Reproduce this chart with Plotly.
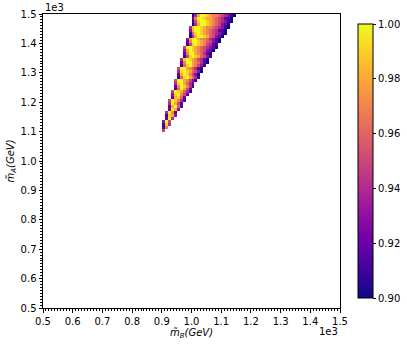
import numpy as np
import plotly.graph_objects as go

# grid of 10 GeV cells from 500 to 1500 on both axes
x_edges = np.arange(500, 1501, 10)
y_edges = np.arange(500, 1501, 10)

# rows of the filled wedge: lower edge of row (m_A), first cell (m_B), values
row_y = [1100, 1110, 1120, 1130, 1140, 1150, 1160, 1170, 1180, 1190,
         1200, 1210, 1220, 1230, 1240, 1250, 1260, 1270, 1280, 1290,
         1300, 1310, 1320, 1330, 1340, 1350, 1360, 1370, 1380, 1390,
         1400, 1410, 1420, 1430, 1440, 1450, 1460, 1470, 1480, 1490]
row_start = [900, 900, 900, 900, 910, 910, 910, 920, 920, 920,
             920, 930, 930, 930, 940, 940, 940, 940, 950, 950,
             950, 950, 960, 960, 960, 970, 970, 970, 970, 980,
             980, 980, 990, 990, 990, 990, 1000, 1000, 1000, 1000]
row_values = [
    [0.95],
    [0.91, 0.97],
    [0.91, 0.99, 0.94],
    [0.93, 1.00, 0.95],
    [0.92, 1.00, 0.94],
    [0.91, 0.99, 0.98, 0.93],
    [0.94, 1.00, 0.97, 0.92],
    [0.92, 1.00, 0.98, 0.93],
    [0.92, 0.98, 1.00, 0.96, 0.92],
    [0.94, 1.00, 0.98, 0.95, 0.91],
    [0.95, 1.00, 0.99, 0.97, 0.94, 0.91],
    [0.92, 0.98, 0.99, 0.96, 0.92],
    [0.93, 0.99, 1.00, 0.97, 0.95, 0.92],
    [0.95, 1.00, 0.99, 0.98, 0.96, 0.94, 0.91],
    [0.91, 0.96, 1.00, 0.98, 0.95, 0.92],
    [0.92, 0.97, 1.00, 0.99, 0.97, 0.94, 0.91],
    [0.94, 0.99, 1.00, 0.98, 0.96, 0.94, 0.92],
    [0.95, 1.00, 1.00, 0.98, 0.97, 0.95, 0.93, 0.91],
    [0.91, 0.96, 0.99, 1.00, 0.98, 0.96, 0.94, 0.91],
    [0.92, 0.98, 1.00, 0.99, 0.97, 0.95, 0.93, 0.90],
    [0.94, 0.99, 1.00, 0.99, 0.98, 0.96, 0.95, 0.93, 0.90],
    [0.95, 1.00, 1.00, 0.98, 0.97, 0.96, 0.94, 0.92, 0.90],
    [0.91, 0.96, 0.99, 1.00, 0.98, 0.97, 0.95, 0.93, 0.91],
    [0.92, 0.97, 1.00, 1.00, 0.98, 0.97, 0.96, 0.94, 0.92, 0.90],
    [0.94, 0.99, 1.00, 0.99, 0.98, 0.97, 0.95, 0.94, 0.92, 0.90],
    [0.91, 0.95, 0.99, 1.00, 0.99, 0.98, 0.96, 0.95, 0.93, 0.91],
    [0.92, 0.97, 1.00, 1.00, 0.98, 0.97, 0.96, 0.94, 0.92, 0.90],
    [0.93, 0.98, 1.00, 0.99, 0.98, 0.97, 0.96, 0.95, 0.93, 0.92, 0.90],
    [0.95, 1.00, 1.00, 0.99, 0.98, 0.97, 0.96, 0.95, 0.94, 0.93, 0.92, 0.90],
    [0.91, 0.95, 0.99, 1.00, 0.99, 0.98, 0.97, 0.95, 0.94, 0.92, 0.91],
    [0.92, 0.97, 1.00, 1.00, 0.99, 0.98, 0.97, 0.96, 0.95, 0.93, 0.92, 0.90],
    [0.93, 0.98, 1.00, 1.00, 0.98, 0.97, 0.97, 0.96, 0.94, 0.93, 0.91, 0.90],
    [0.90, 0.94, 0.98, 1.00, 1.00, 0.99, 0.98, 0.96, 0.95, 0.93, 0.92, 0.90],
    [0.91, 0.96, 0.99, 1.00, 0.99, 0.98, 0.97, 0.96, 0.95, 0.94, 0.93, 0.91, 0.90],
    [0.93, 0.98, 1.00, 1.00, 0.99, 0.98, 0.97, 0.96, 0.95, 0.94, 0.92, 0.91, 0.90],
    [0.94, 0.99, 1.00, 1.00, 0.99, 0.98, 0.97, 0.97, 0.96, 0.95, 0.94, 0.93, 0.91, 0.90],
    [0.90, 0.94, 0.98, 1.00, 1.00, 0.99, 0.98, 0.97, 0.96, 0.95, 0.93, 0.92, 0.90],
    [0.91, 0.95, 0.99, 1.00, 1.00, 0.99, 0.98, 0.97, 0.96, 0.95, 0.94, 0.93, 0.91, 0.90],
    [0.92, 0.97, 1.00, 1.00, 0.99, 0.98, 0.98, 0.97, 0.96, 0.95, 0.94, 0.92, 0.91, 0.90],
    [0.90, 0.94, 0.98, 1.00, 1.00, 0.99, 0.98, 0.97, 0.97, 0.96, 0.95, 0.94, 0.93, 0.91, 0.90],
]

tick_vals = [500, 600, 700, 800, 900, 1000, 1100, 1200, 1300, 1400, 1500]
tick_text = ["0.5", "0.6", "0.7", "0.8", "0.9", "1.0", "1.1", "1.2", "1.3", "1.4", "1.5"]
cbar_ticks = [0.90, 0.92, 0.94, 0.96, 0.98, 1.00]

# fill the grid
z = np.full((len(y_edges) - 1, len(x_edges) - 1), np.nan)
for y0, x0, vals in zip(row_y, row_start, row_values):
    i = int((y0 - 500) // 10)
    j = int((x0 - 500) // 10)
    z[i, j:j + len(vals)] = vals

x_c = x_edges[:-1] + 5
y_c = y_edges[:-1] + 5

font = dict(family="DejaVu Sans", size=10, color="black")

fig = go.Figure(go.Heatmap(
    x=x_c, y=y_c, z=z,
    colorscale="Plasma", zmin=0.9, zmax=1.0,
    hoverongaps=False,
    colorbar=dict(
        x=1.061, xanchor="left", xpad=0,
        y=0.5, yanchor="middle", len=1.0, lenmode="fraction",
        thickness=15, outlinewidth=1, outlinecolor="black",
        tickvals=cbar_ticks, ticktext=["%.2f" % v for v in cbar_ticks],
        ticks="outside", ticklen=3, tickcolor="black",
        tickfont=font,
    ),
))

axis_common = dict(
    range=[500, 1500], tickvals=tick_vals, ticktext=tick_text,
    showgrid=False, zeroline=False, showline=True, linecolor="black",
    linewidth=1, mirror=True, ticks="outside", ticklen=3.5,
    tickcolor="black", tickfont=font,
    minor=dict(dtick=10, ticks="outside", ticklen=2, tickcolor="black"),
)

fig.update_layout(
    width=407, height=344,
    margin=dict(l=43, r=67, t=14, b=36, autoexpand=False),
    plot_bgcolor="white", paper_bgcolor="white",
    font=font,
    xaxis=dict(axis_common, title=dict(text="<i>m\u0303<sub>B</sub>(GeV)</i>",
                                       font=dict(family="DejaVu Sans", size=10),
                                       standoff=2)),
    yaxis=dict(axis_common, title=dict(text="<i>m\u0303<sub>A</sub>(GeV)</i>",
                                       font=dict(family="DejaVu Sans", size=10),
                                       standoff=4)),
    annotations=[
        dict(text="1e3", x=0, y=1, xref="paper", yref="paper",
             xanchor="left", yanchor="bottom", showarrow=False, font=font, yshift=-1),
        dict(text="1e3", x=1, y=0, xref="paper", yref="paper",
             xanchor="right", yanchor="top", showarrow=False, font=font, yshift=-16),
    ],
)

# drop the default page margin so the figure fills the window
fig.write_html("out.html", config={"displayModeBar": False},
               post_script="document.body.style.margin = '0';")
